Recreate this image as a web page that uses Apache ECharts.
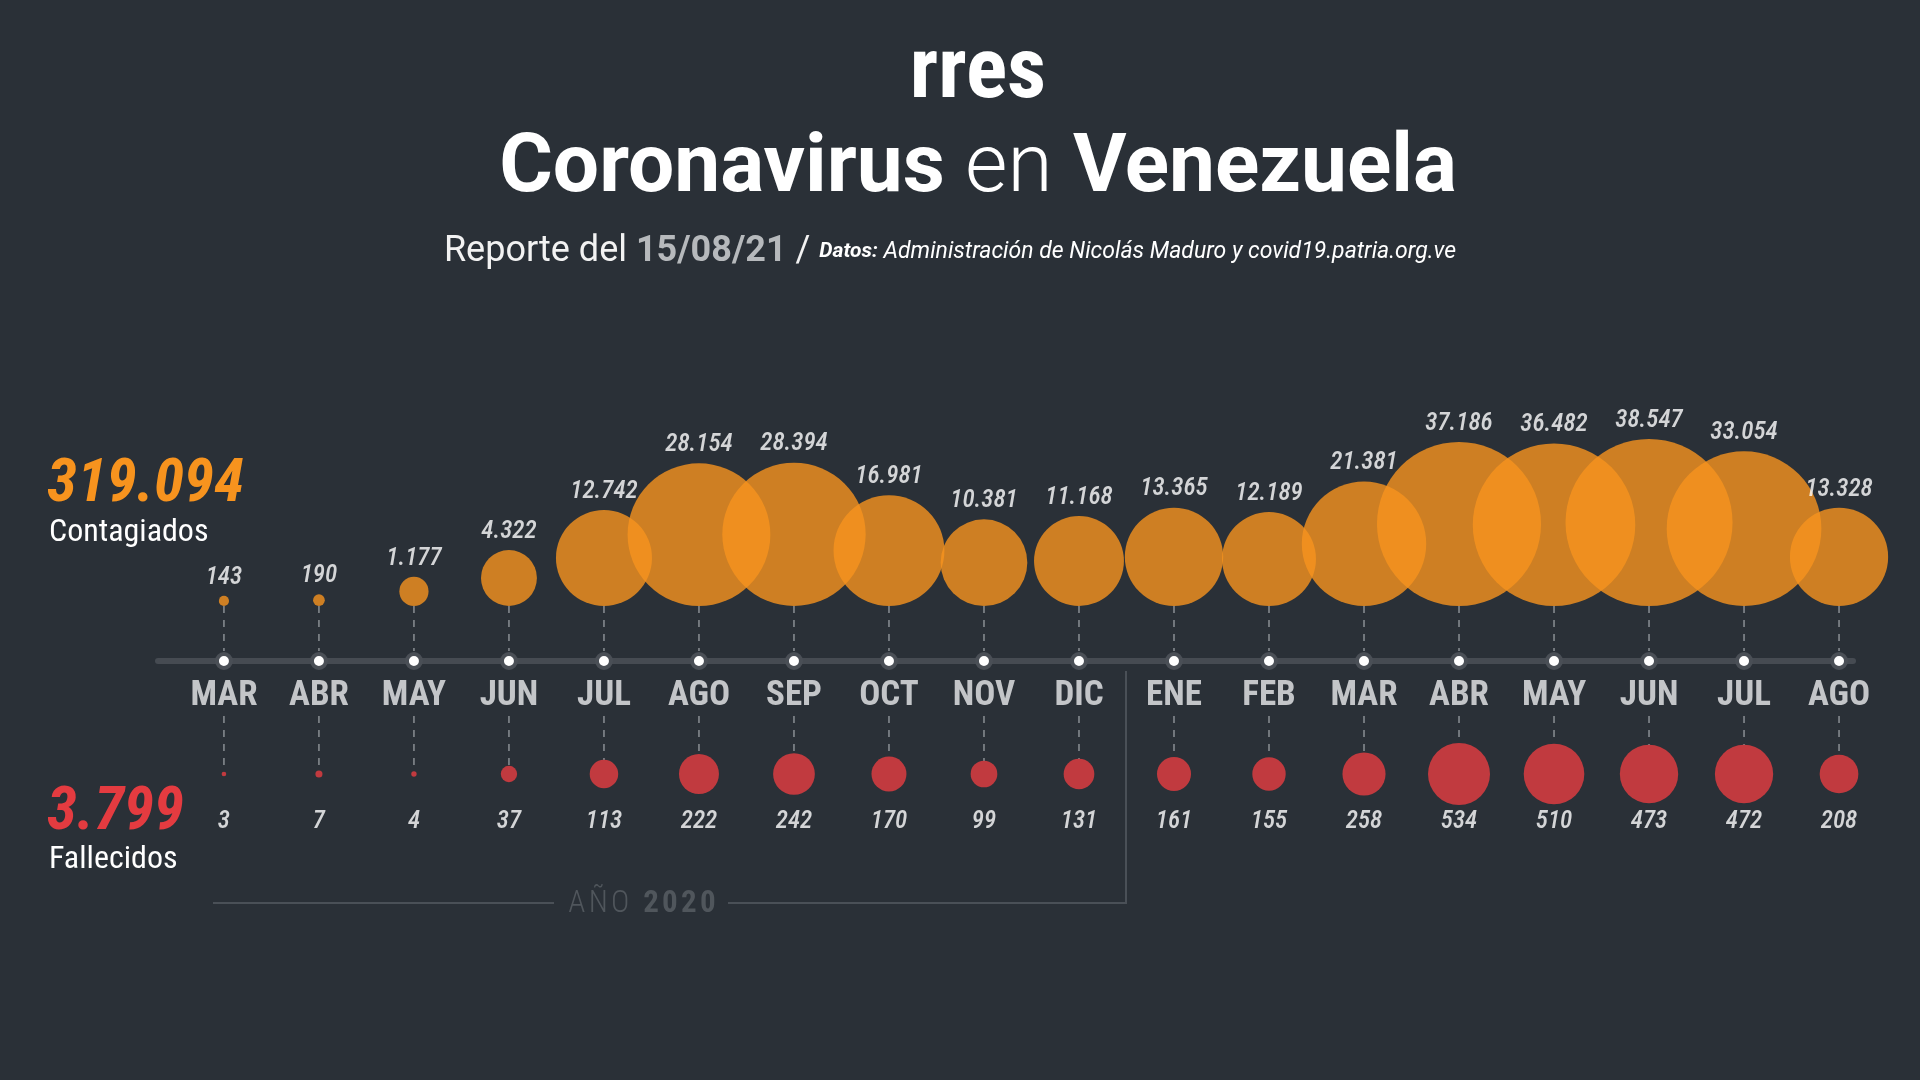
<!DOCTYPE html>
<html>
<head>
<meta charset="utf-8">
<script src="https://cdn.jsdelivr.net/npm/echarts@6/dist/echarts.min.js"></script>
<style>
  html, body { margin: 0; padding: 0; background: #2a3037; }
  #chart { width: 1920px; height: 1080px; }
</style>
</head>
<body>
<div id="chart"></div>
<script>
// datos
const months = ["MAR", "ABR", "MAY", "JUN", "JUL", "AGO", "SEP", "OCT", "NOV", "DIC",
    "ENE", "FEB", "MAR", "ABR", "MAY", "JUN", "JUL", "AGO"];
const contagiados = [143, 190, 1177, 4322, 12742, 28154, 28394, 16981, 10381, 11168,
    13365, 12189, 21381, 37186, 36482, 38547, 33054, 13328];
const fallecidos = [3, 7, 4, 37, 113, 222, 242, 170, 99, 131,
    161, 155, 258, 534, 510, 473, 472, 208];
const totalContagiados = 319094;
const totalFallecidos = 3799;

const NARROW = '"Roboto Condensed", "Liberation Sans Narrow", "DejaVu Sans Condensed", Roboto, sans-serif';
const ROBOTO = 'Roboto, "Noto Sans", sans-serif';

// filas (en px dentro del grid, hacia abajo)
const ROW_BASE = 0;
const ROW_AXIS = 55;
const ROW_RED = 168;
const ROW_RED_LABEL = 216;

const maxC = Math.max(...contagiados);
const maxF = Math.max(...fallecidos);

function fmt(v) {
    return String(v).replace(/\B(?=(\d{3})+(?!\d))/g, ".");
}

// espaciado de letras con espacio fino
function spaced(s) {
    return s.split("").join("\u200A");
}

const chart = echarts.init(document.getElementById("chart"), null, { renderer: "canvas" });

const idx = months.map((_, i) => i);

chart.setOption({
    backgroundColor: "#2a3037",
    animation: false,
    grid: { left: 158, right: 67, top: 606, height: 216 },
    xAxis: {
        type: "value",
        min: -0.694,
        max: 17.147,
        offset: -(216 - ROW_AXIS),
        axisLine: { onZero: false, lineStyle: { color: "#464b52", width: 6, cap: "round" } },
        axisTick: { show: false },
        splitLine: { show: false },
        axisLabel: {
            customValues: idx,
            formatter: (v) => months[Math.round(v)] || "",
            color: "#c3c5c8",
            fontFamily: NARROW,
            fontWeight: "bold",
            fontSize: 35,
            margin: 18,
        },
    },
    yAxis: {
        type: "value",
        min: 0,
        max: 216,
        inverse: true,
        show: false,
    },
    graphic: [
        {
            type: "text",
            x: 978, y: 75,
            style: {
                text: "rres",
                fill: "#fff",
                font: "bold 86px " + NARROW,
                align: "center", verticalAlign: "middle",
                textAlign: "center", textVerticalAlign: "middle",
            },
        },
        {
            type: "text",
            x: 978, y: 170,
            style: {
                text: "{b|Coronavirus} {l|en} {b|Venezuela}",
                fill: "#fff",
                font: "82px " + ROBOTO,
                align: "center", verticalAlign: "middle",
                textAlign: "center", textVerticalAlign: "middle",
                rich: {
                    b: { fontFamily: ROBOTO, fontWeight: "bold", fontSize: 82, fill: "#fff" },
                    l: { fontFamily: ROBOTO, fontWeight: 300, fontSize: 82, fill: "#fff" },
                },
            },
        },
        {
            type: "text",
            x: 950, y: 252,
            style: {
                text: "{r|Reporte del }{d|15/08/21}{s| / }{k|Datos:}{i| Administración de Nicolás Maduro y covid19.patria.org.ve}",
                fill: "#fff",
                font: "36px " + ROBOTO,
                align: "center", verticalAlign: "middle",
                textAlign: "center", textVerticalAlign: "middle",
                rich: {
                    r: { fontFamily: ROBOTO, fontSize: 36, fill: "#f2f2f2" },
                    d: { fontFamily: ROBOTO, fontSize: 36, fontWeight: "bold", fill: "#b6b9bc" },
                    s: { fontFamily: ROBOTO, fontSize: 36, fill: "#f2f2f2" },
                    k: { fontFamily: ROBOTO, fontSize: 21, fontWeight: "bold", fontStyle: "italic", fill: "#fff" },
                    i: { fontFamily: ROBOTO, fontSize: 23, fontStyle: "italic", fill: "#fff" },
                },
            },
        },
        {
            type: "text",
            x: 47, y: 486,
            style: {
                text: fmt(totalContagiados),
                fill: "#f7931e",
                font: "italic bold 61px " + NARROW,
                verticalAlign: "middle", textVerticalAlign: "middle",
            },
        },
        {
            type: "text",
            x: 49, y: 533,
            style: {
                text: "Contagiados",
                fill: "#fff",
                font: "32px " + NARROW,
                verticalAlign: "middle", textVerticalAlign: "middle",
            },
        },
        {
            type: "text",
            x: 47, y: 814,
            style: {
                text: fmt(totalFallecidos),
                fill: "#e43b40",
                font: "italic bold 61px " + NARROW,
                verticalAlign: "middle", textVerticalAlign: "middle",
            },
        },
        {
            type: "text",
            x: 49, y: 860,
            style: {
                text: "Fallecidos",
                fill: "#fff",
                font: "32px " + NARROW,
                verticalAlign: "middle", textVerticalAlign: "middle",
            },
        },
        {
            type: "polyline",
            shape: { points: [[213, 903], [554, 903]] },
            style: { stroke: "#4a5057", lineWidth: 2, fill: null },
        },
        {
            type: "polyline",
            shape: { points: [[728, 903], [1126, 903], [1126, 671]] },
            style: { stroke: "#4a5057", lineWidth: 2, fill: null },
        },
        {
            type: "text",
            x: 642, y: 904,
            style: {
                text: "{a|" + spaced("AÑO") + "\u2002}{b|" + spaced("2020") + "}",
                fill: "#50565c",
                font: "31px " + NARROW,
                align: "center", verticalAlign: "middle",
                textAlign: "center", textVerticalAlign: "middle",
                rich: {
                    a: { fontFamily: NARROW, fontSize: 31, fontWeight: 300, fill: "#50565c" },
                    b: { fontFamily: NARROW, fontSize: 31, fontWeight: "bold", fill: "#50565c" },
                },
            },
        },
    ],
    series: [
        {
            // líneas punteadas verticales
            type: "custom",
            clip: false,
            z: 1,
            data: idx.map((i) => [i]),
            renderItem: (params, api) => {
                const i = api.value(0);
                const a = api.coord([i, ROW_BASE]);
                const b = api.coord([i, ROW_AXIS - 10]);
                const c = api.coord([i, ROW_AXIS + 55]);
                const d = api.coord([i, ROW_RED]);
                const style = { stroke: "#8a8f94", lineWidth: 1.5, lineDash: [7, 7] };
                return {
                    type: "group",
                    children: [
                        { type: "line", shape: { x1: a[0], y1: a[1], x2: b[0], y2: b[1] }, style },
                        { type: "line", shape: { x1: c[0], y1: c[1], x2: d[0], y2: d[1] }, style },
                    ],
                };
            },
        },
        {
            name: "Contagiados",
            type: "scatter",
            clip: false,
            z: 2,
            data: contagiados.map((v, i) => [i, ROW_BASE, v]),
            symbolSize: (val) => Math.sqrt(val[2] / maxC) * 167,
            symbolOffset: [0, "-50%"],
            itemStyle: { color: "#f7931e", opacity: 0.8 },
            label: {
                show: true,
                position: "top",
                distance: 6,
                formatter: (p) => fmt(p.value[2]),
                color: "#fff",
                fontFamily: NARROW,
                fontStyle: "italic",
                fontWeight: 500,
                fontSize: 25,
            },
        },
        {
            name: "Eje",
            type: "scatter",
            clip: false,
            z: 5,
            data: idx.map((i) => [i, ROW_AXIS]),
            symbolSize: 14,
            itemStyle: { color: "#fff", borderColor: "#4a4f56", borderWidth: 4, opacity: 1 },
        },
        {
            name: "Fallecidos",
            type: "scatter",
            clip: false,
            z: 2,
            data: fallecidos.map((v, i) => [i, ROW_RED, v]),
            symbolSize: (val) => Math.sqrt(val[2] / maxF) * 62,
            itemStyle: { color: "#c13a3f", opacity: 1 },
        },
        {
            name: "Fallecidos etiquetas",
            type: "scatter",
            clip: false,
            z: 3,
            data: fallecidos.map((v, i) => [i, ROW_RED_LABEL, v]),
            symbolSize: 0,
            label: {
                show: true,
                position: "inside",
                formatter: (p) => fmt(p.value[2]),
                color: "#fff",
                fontFamily: NARROW,
                fontStyle: "italic",
                fontWeight: 500,
                fontSize: 25,
            },
        },
    ],
});
</script>
</body>
</html>
